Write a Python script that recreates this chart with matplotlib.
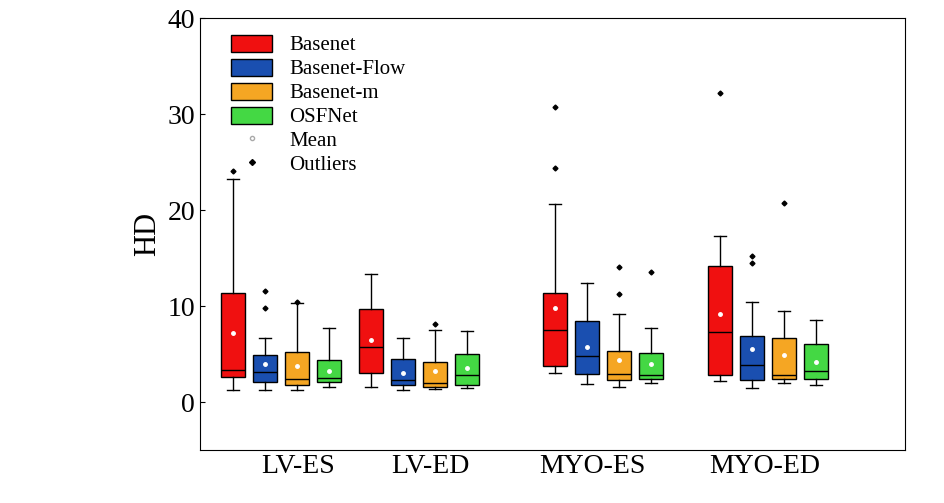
import matplotlib
matplotlib.use("Agg")
import matplotlib.pyplot as plt
from matplotlib.lines import Line2D
from matplotlib.patches import Patch

plt.rcParams['font.family'] = ['Liberation Serif', 'DejaVu Serif']

groups = ["LV-ES", "LV-ED", "MYO-ES", "MYO-ED"]
methods = ["Basenet", "Basenet-Flow", "Basenet-m", "OSFNet"]
colors = ["#f01010", "#1a4fb0", "#f5a623", "#44d844"]
# (whislo, q1, med, q3, whishi, mean, outliers)
stats = {
 "LV-ES": [(1.3, 2.6, 3.3, 11.4, 23.2, 7.2, [24.1]),
           (1.3, 2.1, 3.1, 4.9, 6.7, 4.0, [9.8, 11.6]),
           (1.3, 1.8, 2.4, 5.2, 10.3, 3.8, [10.4]),
           (1.6, 2.1, 2.5, 4.4, 7.7, 3.2, [])],
 "LV-ED": [(1.6, 3.0, 5.7, 9.7, 13.3, 6.5, []),
           (1.2, 1.8, 2.3, 4.5, 6.7, 3.0, []),
           (1.4, 1.6, 2.0, 4.2, 7.5, 3.2, [8.1]),
           (1.5, 1.8, 2.8, 5.0, 7.4, 3.5, [])],
 "MYO-ES": [(3.0, 3.7, 7.5, 11.4, 20.6, 9.8, [24.4, 30.7]),
            (1.9, 2.9, 4.8, 8.4, 12.4, 5.7, []),
            (1.6, 2.3, 2.9, 5.3, 9.2, 4.4, [11.3, 14.1]),
            (2.0, 2.4, 2.8, 5.1, 7.7, 4.0, [13.5])],
 "MYO-ED": [(2.2, 2.8, 7.3, 14.2, 17.3, 9.2, [32.2]),
            (1.5, 2.3, 3.9, 6.9, 10.4, 5.5, [14.5, 15.2]),
            (2.0, 2.4, 2.8, 6.7, 9.5, 4.9, [20.7]),
            (1.8, 2.4, 3.2, 6.0, 8.5, 4.2, [])],
}
group_pos = [281, 419, 603, 768]
label_pos = [298, 430, 592, 765]
offsets = [-48, -16, 16, 48]

fig = plt.figure(figsize=(9.45, 5.03), dpi=100)
ax = fig.add_axes([200/945, 53/503, 705/945, 432/503])

for gi, g in enumerate(groups):
    for mi in range(4):
        lo, q1, med, q3, hi, mean, fl = stats[g][mi]
        s = dict(whislo=lo, q1=q1, med=med, q3=q3, whishi=hi, mean=mean, fliers=fl)
        ax.bxp([s], positions=[group_pos[gi] + offsets[mi]], widths=24,
               patch_artist=True, showmeans=True, showcaps=True, manage_ticks=False,
               boxprops=dict(facecolor=colors[mi], edgecolor='black', linewidth=1),
               medianprops=dict(color='black', linewidth=1),
               whiskerprops=dict(color='black', linewidth=1),
               capprops=dict(color='black', linewidth=1),
               meanprops=dict(marker='o', markerfacecolor='white', markeredgecolor='white', markersize=2.5),
               flierprops=dict(marker='D', markerfacecolor='black', markeredgecolor='black', markersize=2.5))

ax.set_xlim(200, 905)
ax.set_ylim(-5, 40)
ax.set_xticks(label_pos)
ax.set_xticklabels(groups, fontsize=20)
ax.set_yticks([0, 10, 20, 30, 40])
ax.tick_params(axis='y', labelsize=20, direction='in')
ax.tick_params(axis='x', length=0, pad=3)
ax.set_ylabel("HD", fontsize=22)

handles = [Patch(facecolor=c, edgecolor='black', label=m) for c, m in zip(colors, methods)]
handles.append(Line2D([], [], marker='o', ls='', markerfacecolor='white', markeredgecolor='#aaaaaa', markersize=3, label='Mean'))
handles.append(Line2D([], [], marker='D', ls='', markerfacecolor='black', markeredgecolor='black', markersize=3, label='Outliers'))
ax.legend(handles=handles, loc='upper left', bbox_to_anchor=(0.02, 1.0), frameon=False,
          fontsize=15, handlelength=2.0, handleheight=0.9, labelspacing=0.15, borderpad=0.3)

fig.savefig("out.png", dpi=100)
